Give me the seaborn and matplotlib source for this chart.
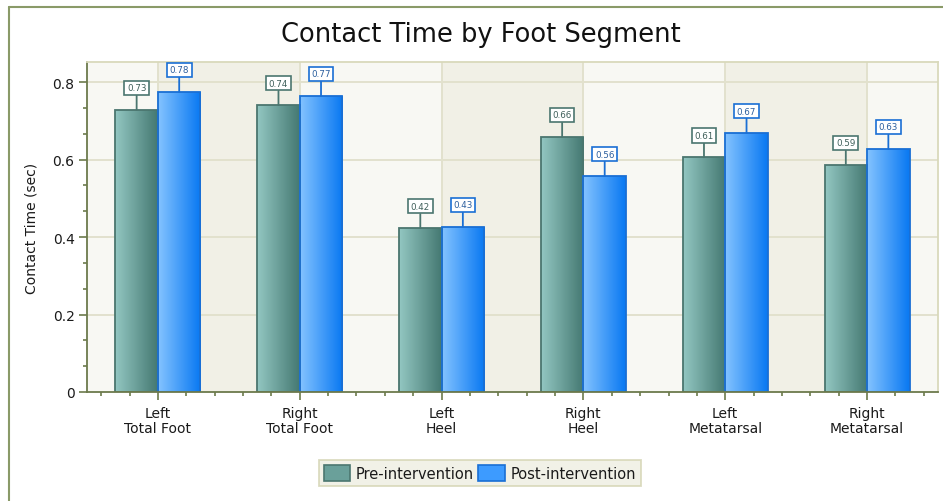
import numpy as np
import pandas as pd
import matplotlib
matplotlib.use("Agg")
import matplotlib.pyplot as plt
import seaborn as sns
from matplotlib.colors import LinearSegmentedColormap
from matplotlib.patches import Patch
from matplotlib.lines import Line2D
from matplotlib.ticker import MultipleLocator, FixedLocator

# ---- data ----
categories = ["Left\nTotal Foot", "Right\nTotal Foot", "Left\nHeel",
              "Right\nHeel", "Left\nMetatarsal", "Right\nMetatarsal"]
series = ["Pre-intervention", "Post-intervention"]
pre_values = [0.729, 0.741, 0.423, 0.659, 0.606, 0.587]
post_values = [0.775, 0.765, 0.427, 0.558, 0.669, 0.628]
y_ticks = [0, 0.2, 0.4, 0.6, 0.8]
y_tick_labels = ["0", "0.2", "0.4", "0.6", "0.8"]

df = pd.DataFrame({
    "Segment": categories * 2,
    "Series": [series[0]] * len(categories) + [series[1]] * len(categories),
    "Value": pre_values + post_values,
})

W, H = 943, 502
sns.set_theme(style="white")
plt.rcParams['font.family'] = ['DejaVu Sans']
fig = plt.figure(figsize=(W / 100, H / 100), dpi=100)
fig.patch.set_facecolor("white")
ax = fig.add_axes([87 / W, (H - 393) / H, (938 - 87) / W, (393 - 63) / H])

pre_edge = "#4b766f"
post_edge = "#1a6fd4"
palette = {series[0]: "#6aa09a", series[1]: "#3d9bff"}

sns.barplot(data=df, x="Segment", y="Value", hue="Series", order=categories,
            hue_order=series, palette=palette, width=0.6, gap=0,
            legend=False, ax=ax, saturation=1, err_kws={"linewidth": 0})

ax.set_xlim(-0.5, 5.5)
ymax = 0.852
ax.set_ylim(0, ymax)

# background interlaced bands
ax.set_facecolor("#f8f8f3")
for i in range(0, len(categories) - 1, 2):
    ax.axvspan(i, i + 1, color="#f1f0e6", zorder=0.1, lw=0)

# grid
ax.set_axisbelow(True)
for yv in y_ticks[1:]:
    ax.axhline(yv, color="#e2e1cd", lw=1.4, zorder=0.5)
for xv in range(len(categories)):
    ax.axvline(xv, color="#e2e1cd", lw=1.4, zorder=0.5)

# gradient bars
cmaps = [LinearSegmentedColormap.from_list("pre", ["#93c7c2", "#447871"]),
         LinearSegmentedColormap.from_list("post", ["#84c3ff", "#0878f2"])]
edges = [pre_edge, post_edge]
grad = np.linspace(0, 1, 256).reshape(1, -1)
for k, cont in enumerate(ax.containers):
    for p in cont.patches:
        x0, y0 = p.get_x(), p.get_y()
        w, h = p.get_width(), p.get_height()
        im = ax.imshow(grad, cmap=cmaps[k], extent=[x0, x0 + w, y0, y0 + h],
                       aspect="auto", zorder=1.5, interpolation="bilinear")
        im.set_clip_path(p)
        p.set_facecolor("none")
        p.set_edgecolor(edges[k])
        p.set_linewidth(1.3)
        p.set_zorder(2)

ax.set_xlim(-0.5, 5.5)
ax.set_ylim(0, ymax)

# data labels
label_text = ["#3f5f5a", "#2c5f9e"]
for k, cont in enumerate(ax.containers):
    for p in cont.patches:
        xc = p.get_x() + p.get_width() / 2
        top = p.get_height()
        ax.annotate(f"{top:.2f}", xy=(xc, top), xytext=(0, 12.5),
                    textcoords="offset points", ha="center", va="bottom",
                    fontsize=6.3, color=label_text[k], zorder=5,
                    bbox=dict(boxstyle="square,pad=0.3", fc="white",
                              ec=edges[k], lw=1.2),
                    arrowprops=dict(arrowstyle="-", color=edges[k], lw=1.3,
                                    shrinkA=0, shrinkB=0))

# axes styling
axis_col = "#6c7a4c"
for s in ["left", "bottom"]:
    ax.spines[s].set_color(axis_col)
    ax.spines[s].set_linewidth(1.3)
for s in ["top", "right"]:
    ax.spines[s].set_color("#d9d9bb")
    ax.spines[s].set_linewidth(1.3)

ax.set_yticks(y_ticks)
ax.set_yticklabels(y_tick_labels, fontsize=10)
ax.yaxis.set_minor_locator(MultipleLocator(0.2 / 3))
ax.set_xticks(range(len(categories)))
ax.set_xticklabels(categories, fontsize=10, linespacing=1.1)
minor_x = [i + d for i in range(-1, len(categories)) for d in (0.2, 0.4, 0.6, 0.8)
           if -0.5 < i + d < 5.5]
ax.xaxis.set_minor_locator(FixedLocator(minor_x))
ax.tick_params(bottom=True, left=True, which="both")
ax.tick_params(axis="both", which="major", direction="out", length=6,
               width=1.2, color=axis_col, labelcolor="#1a1a1a", pad=3)
ax.tick_params(axis="both", which="minor", direction="out", length=3,
               width=1.2, color=axis_col)
ax.tick_params(axis="x", which="major", length=6, pad=4)
ax.set_xlabel("")
ax.set_ylabel("Contact Time (sec)", fontsize=10, color="#1a1a1a", labelpad=10)

# title
fig.text(481 / W, 1 - 35 / H, "Contact Time by Foot Segment", ha="center",
         va="center", fontsize=18.5, color="#111111")

# legend
handles = [Patch(facecolor="#6aa09a", edgecolor=pre_edge, lw=1.2, label=series[0]),
           Patch(facecolor="#3d9bff", edgecolor=post_edge, lw=1.2, label=series[1])]
leg = fig.legend(handles=handles, loc="center", bbox_to_anchor=(480 / W, 1 - 474 / H),
                 ncol=2, frameon=True, fancybox=False, fontsize=10.5,
                 handlelength=1.8, handleheight=1.3, handletextpad=0.4,
                 columnspacing=0.3, borderpad=0.35, borderaxespad=0)
leg.get_frame().set_facecolor("#eeeee2")
leg.get_frame().set_edgecolor("#d4d4b2")
leg.get_frame().set_linewidth(1.3)
for t in leg.get_texts():
    t.set_color("#1a1a1a")

# outer chart border (left and top)
bc = "#8a9a68"
fig.add_artist(Line2D([8.5 / W, 8.5 / W], [0, 1 - 7.5 / H], transform=fig.transFigure,
                      color=bc, lw=1.5))
fig.add_artist(Line2D([8.5 / W, 1], [1 - 7.5 / H, 1 - 7.5 / H], transform=fig.transFigure,
                      color=bc, lw=1.5))

fig.savefig("out.png", dpi=100)
